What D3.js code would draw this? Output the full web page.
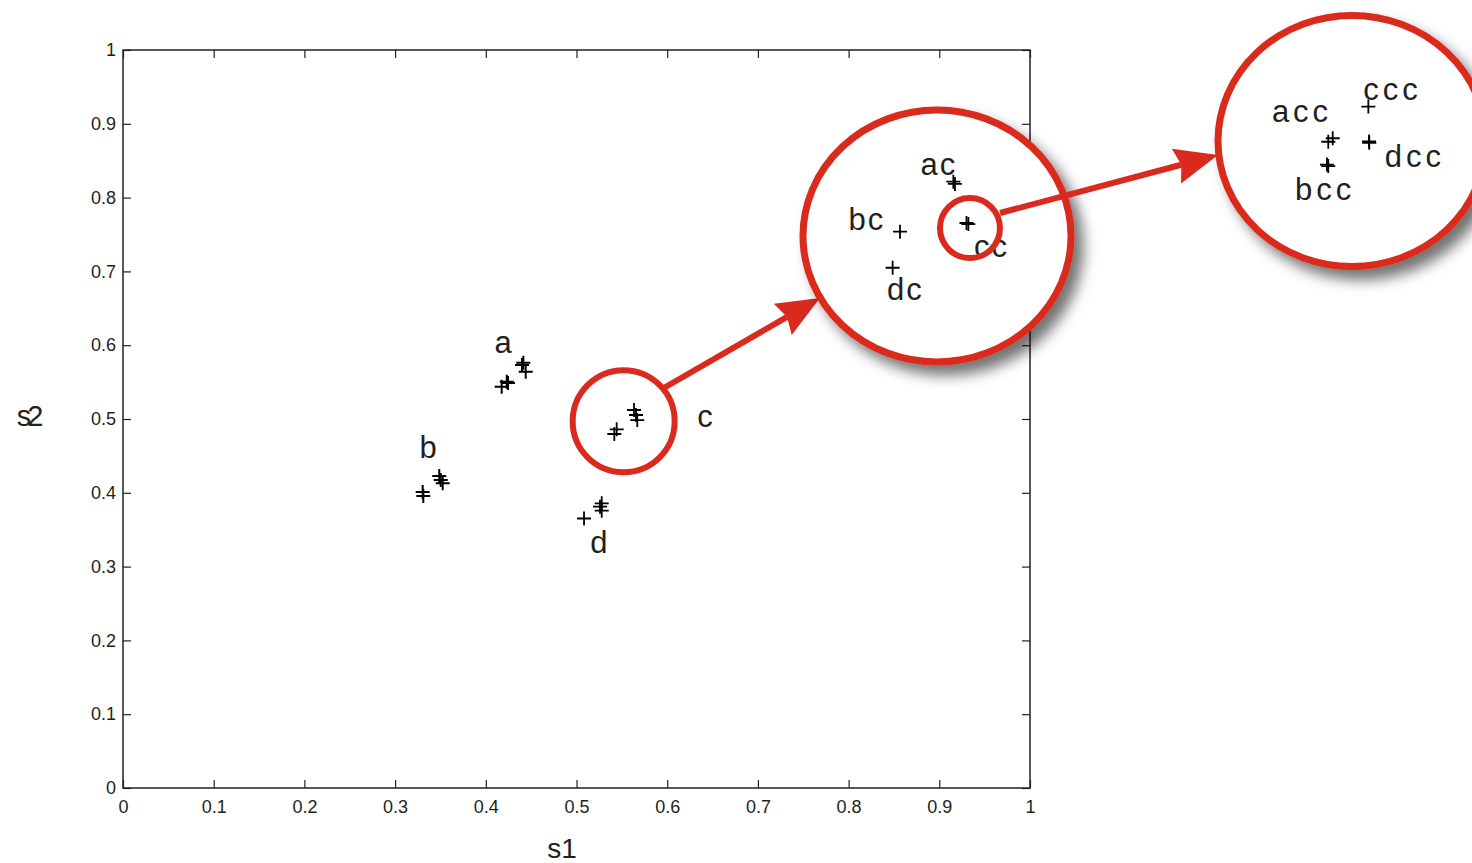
<!DOCTYPE html>
<html>
<head>
<meta charset="utf-8">
<script src="https://cdn.jsdelivr.net/npm/d3@7"></script>
<style>
  html, body { margin: 0; padding: 0; background: #fff; }
  svg { display: block; }
  text { font-family: "Liberation Sans", Arial, Helvetica, sans-serif; fill: #231f20; }
</style>
</head>
<body>
<svg id="chart" width="1472" height="863"></svg>
<script>
// ---------------- data ----------------
const xTicks = [0, 0.1, 0.2, 0.3, 0.4, 0.5, 0.6, 0.7, 0.8, 0.9, 1];
const yTicks = [0, 0.1, 0.2, 0.3, 0.4, 0.5, 0.6, 0.7, 0.8, 0.9, 1];
const xTickLabels = ["0", "0.1", "0.2", "0.3", "0.4", "0.5", "0.6", "0.7", "0.8", "0.9", "1"];
const yTickLabels = ["0", "0.1", "0.2", "0.3", "0.4", "0.5", "0.6", "0.7", "0.8", "0.9", "1"];

// main scatter clusters (s1, s2)
const clusterA_s1 = [0.4414, 0.4399, 0.4440, 0.4231, 0.4245, 0.4175];
const clusterA_s2 = [0.5763, 0.5732, 0.5641, 0.5505, 0.5488, 0.5438];
const clusterB_s1 = [0.3487, 0.3503, 0.3525, 0.3304, 0.3311];
const clusterB_s2 = [0.4228, 0.4173, 0.4129, 0.4012, 0.3957];
const clusterC_s1 = [0.5443, 0.5417, 0.5634, 0.5656, 0.5670];
const clusterC_s2 = [0.4860, 0.4797, 0.5122, 0.5054, 0.4986];
const clusterD_s1 = [0.5083, 0.5278, 0.5278, 0.5259];
const clusterD_s2 = [0.3652, 0.3858, 0.3758, 0.3812];

const mainLabels = ["a", "b", "c", "d"];
const mainLabel_s1 = [0.419, 0.3363, 0.6417, 0.5248];
const mainLabel_s2 = [0.5894, 0.4472, 0.4892, 0.3184];

// zoom inset 1 (around cluster c), local coordinates in [-1, 1]
const inset1_x = [0.122, 0.134, -0.276, -0.331, 0.234, 0.220];
const inset1_y = [0.431, 0.413, 0.034, -0.252, 0.095, 0.103];
const inset1Labels = ["ac", "bc", "cc", "dc"];
const inset1Label_x = [0.007, -0.530, 0.399, -0.243];
const inset1Label_y = [0.484, 0.048, -0.167, -0.508];

// zoom inset 2 (around cluster cc), local coordinates in [-1, 1]
const inset2_x = [0.122, -0.177, -0.144, 0.129, 0.127, -0.177, -0.187];
const inset2_y = [0.274, -0.006, 0.022, -0.014, -0.004, -0.200, -0.188];
const inset2Labels = ["acc", "ccc", "dcc", "bcc"];
const inset2Label_x = [-0.388, 0.287, 0.455, -0.216];
const inset2Label_y = [0.154, 0.328, -0.210, -0.472];

// ---------------- layout ----------------
const plot = { left: 123, right: 1030, top: 50, bottom: 788 };
const red = "#da2a1f";
const inset1Box = { cx: 937, cy: 236, rx: 134, ry: 126 };
const inset2Box = { cx: 1352, cy: 141, rx: 134, ry: 125.5 };
const cCircle = { s1: 0.552, s2: 0.497, r: 51 };
const ccCircle = { x: 0.246, y: 0.063, r: 30 };
const arrow1 = { from: [662, 389], to: [820, 298] };
const arrow2 = { from: [1000, 213], to: [1218, 155] };

const svg = d3.select("#chart");
svg.append("rect").attr("width", 1472).attr("height", 863).attr("fill", "#fff");

const defs = svg.append("defs");
const f = defs.append("filter").attr("id", "shadow")
  .attr("x", "-30%").attr("y", "-30%").attr("width", "170%").attr("height", "170%");
f.append("feDropShadow").attr("dx", 9).attr("dy", 10).attr("stdDeviation", 7)
  .attr("flood-color", "#000").attr("flood-opacity", 0.55);

const x = d3.scaleLinear().domain([0, 1]).range([plot.left, plot.right]);
const y = d3.scaleLinear().domain([0, 1]).range([plot.bottom, plot.top]);

// ticks (inward, all four sides)
const tickLen = 8;
const axG = svg.append("g");
const bottomAxis = d3.axisBottom(x).tickValues(xTicks).tickSizeInner(-tickLen).tickSizeOuter(0)
  .tickPadding(12).tickFormat((d, i) => xTickLabels[i]);
const topAxis = d3.axisTop(x).tickValues(xTicks).tickSizeInner(-tickLen).tickSizeOuter(0).tickFormat("");
const leftAxis = d3.axisLeft(y).tickValues(yTicks).tickSizeInner(-tickLen).tickSizeOuter(0)
  .tickPadding(7).tickFormat((d, i) => yTickLabels[i]);
const rightAxis = d3.axisRight(y).tickValues(yTicks).tickSizeInner(-tickLen).tickSizeOuter(0).tickFormat("");

function styleAxis(g) {
  g.select(".domain").remove();
  g.selectAll(".tick line").attr("stroke", "#222").attr("stroke-width", 1.2);
  g.selectAll(".tick text").attr("font-size", 18).attr("fill", "#231f20")
    .attr("font-family", "Liberation Sans, Arial, sans-serif");
}
axG.append("g").attr("transform", `translate(0,${plot.bottom})`).call(bottomAxis).call(styleAxis);
axG.append("g").attr("transform", `translate(0,${plot.top})`).call(topAxis).call(styleAxis);
axG.append("g").attr("transform", `translate(${plot.left},0)`).call(leftAxis).call(styleAxis);
axG.append("g").attr("transform", `translate(${plot.right},0)`).call(rightAxis).call(styleAxis);

svg.append("rect")
  .attr("x", x(0)).attr("y", y(1))
  .attr("width", x(1) - x(0)).attr("height", y(0) - y(1))
  .attr("fill", "none").attr("stroke", "#222").attr("stroke-width", 1.5);

// axis titles
svg.append("text").attr("x", 562).attr("y", 858).attr("text-anchor", "middle")
  .attr("font-size", 28).text("s1");
svg.append("text").attr("x", 28).attr("y", 426).attr("text-anchor", "middle")
  .attr("font-size", 29).attr("letter-spacing", "-4px").text("s2");

// plus marker
const plusPath = "M-7,0H7M0,-7V7";
function drawPlus(g, xs, ys, sx, sy, w) {
  g.selectAll(null).data(xs.map((v, i) => [v, ys[i]])).enter().append("path")
    .attr("d", plusPath)
    .attr("transform", d => `translate(${sx(d[0])},${sy(d[1])})`)
    .attr("stroke", "#000").attr("stroke-width", w).attr("fill", "none");
}
function drawLabels(g, labels, xs, ys, sx, sy, size, spacing) {
  g.selectAll(null).data(labels.map((t, i) => [t, xs[i], ys[i]])).enter().append("text")
    .attr("x", d => sx(d[1])).attr("y", d => sy(d[2]))
    .attr("text-anchor", "middle").attr("font-size", size)
    .attr("letter-spacing", spacing + "px")
    .attr("dx", spacing / 2)
    .text(d => d[0]);
}

const mainG = svg.append("g");
drawPlus(mainG, clusterA_s1, clusterA_s2, x, y, 2);
drawPlus(mainG, clusterB_s1, clusterB_s2, x, y, 2);
drawPlus(mainG, clusterC_s1, clusterC_s2, x, y, 1.8);
drawPlus(mainG, clusterD_s1, clusterD_s2, x, y, 1.8);
drawLabels(mainG, mainLabels, mainLabel_s1, mainLabel_s2, x, y, 31, 0);

// circle around cluster c
svg.append("circle").attr("cx", x(cCircle.s1)).attr("cy", y(cCircle.s2)).attr("r", cCircle.r)
  .attr("fill", "none").attr("stroke", red).attr("stroke-width", 6);

// arrow helper
function drawArrow(a) {
  const [sx0, sy0] = a.from, [tx, ty] = a.to;
  const dx = tx - sx0, dy = ty - sy0, L = Math.hypot(dx, dy);
  const ux = dx / L, uy = dy / L, nx = -uy, ny = ux;
  const headLen = 43, hw = 18, notch = 5;
  const bx = tx - ux * headLen, by = ty - uy * headLen;
  const nX = bx + ux * notch, nY = by + uy * notch;
  svg.append("line").attr("x1", sx0).attr("y1", sy0).attr("x2", nX).attr("y2", nY)
    .attr("stroke", red).attr("stroke-width", 6);
  svg.append("path")
    .attr("d", `M${tx},${ty}L${bx + nx * hw},${by + ny * hw}L${nX},${nY}L${bx - nx * hw},${by - ny * hw}Z`)
    .attr("fill", red);
}
drawArrow(arrow1);

// inset 1
const i1x = d3.scaleLinear().domain([-1, 1]).range([inset1Box.cx - inset1Box.rx, inset1Box.cx + inset1Box.rx]);
const i1y = d3.scaleLinear().domain([-1, 1]).range([inset1Box.cy + inset1Box.ry, inset1Box.cy - inset1Box.ry]);
svg.append("ellipse").attr("cx", inset1Box.cx).attr("cy", inset1Box.cy)
  .attr("rx", inset1Box.rx).attr("ry", inset1Box.ry)
  .attr("fill", "#fff").attr("stroke", red).attr("stroke-width", 7)
  .attr("filter", "url(#shadow)");
const in1G = svg.append("g");
drawLabels(in1G, inset1Labels, inset1Label_x, inset1Label_y, i1x, i1y, 31, 2);
drawPlus(in1G, inset1_x, inset1_y, i1x, i1y, 1.8);
svg.append("circle").attr("cx", i1x(ccCircle.x)).attr("cy", i1y(ccCircle.y)).attr("r", ccCircle.r)
  .attr("fill", "none").attr("stroke", red).attr("stroke-width", 6);

drawArrow(arrow2);

// inset 2
const i2x = d3.scaleLinear().domain([-1, 1]).range([inset2Box.cx - inset2Box.rx, inset2Box.cx + inset2Box.rx]);
const i2y = d3.scaleLinear().domain([-1, 1]).range([inset2Box.cy + inset2Box.ry, inset2Box.cy - inset2Box.ry]);
svg.append("ellipse").attr("cx", inset2Box.cx).attr("cy", inset2Box.cy)
  .attr("rx", inset2Box.rx).attr("ry", inset2Box.ry)
  .attr("fill", "#fff").attr("stroke", red).attr("stroke-width", 7)
  .attr("filter", "url(#shadow)");
const in2G = svg.append("g");
drawLabels(in2G, inset2Labels, inset2Label_x, inset2Label_y, i2x, i2y, 31, 4);
drawPlus(in2G, inset2_x, inset2_y, i2x, i2y, 1.8);
</script>
</body>
</html>
